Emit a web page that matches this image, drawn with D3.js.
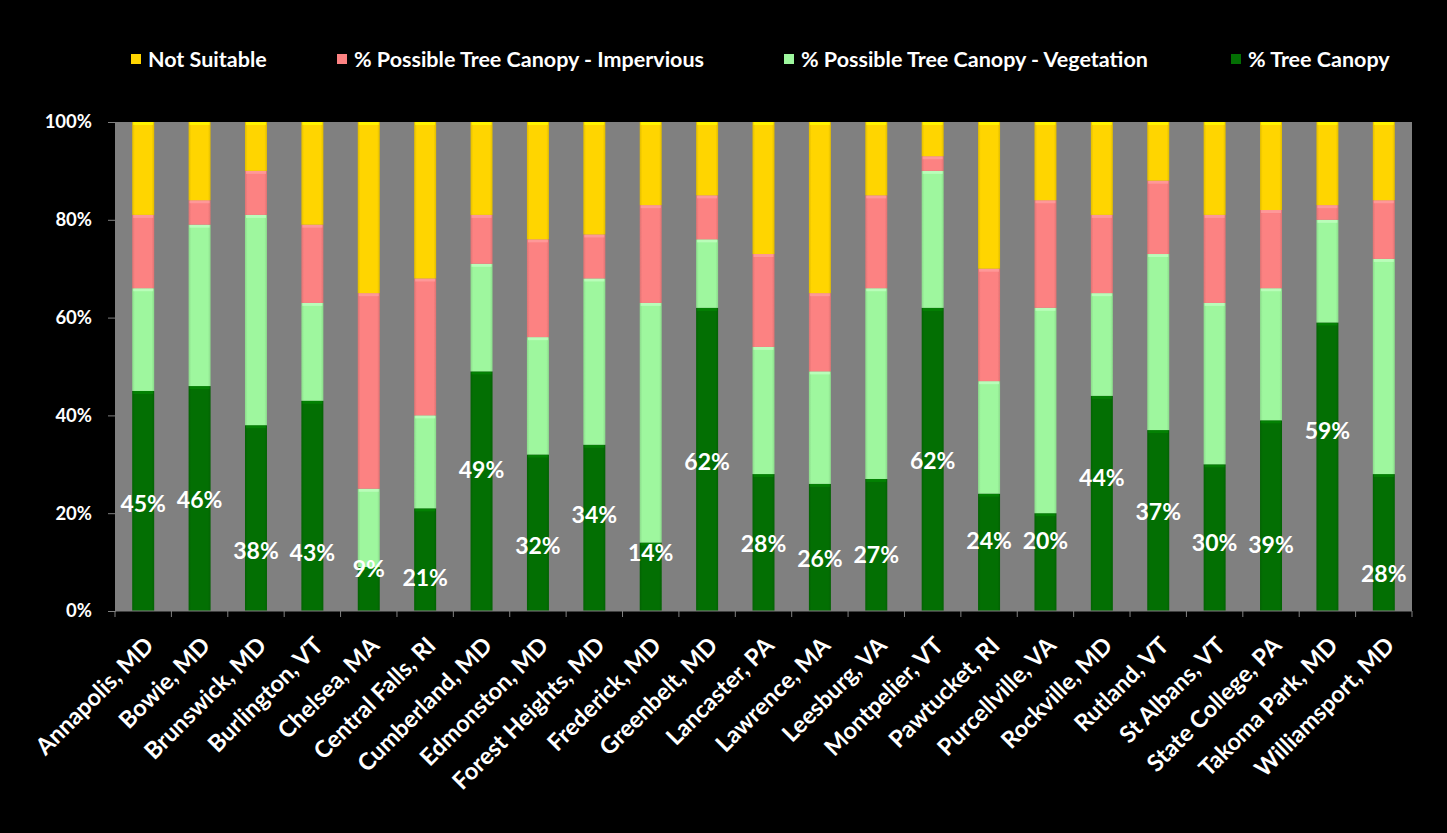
<!DOCTYPE html>
<html>
<head>
<meta charset="utf-8">
<script src="https://cdn.jsdelivr.net/npm/d3@7"></script>
<style>
  html, body { margin: 0; padding: 0; background: #000; }
  svg { display: block; }
  text { font-family: Lato, "Open Sans", sans-serif; font-weight: 700; fill: #fff; }
</style>
</head>
<body>
<svg id="chart" width="1447" height="833"></svg>
<script>
// Urban tree canopy assessment: share of land in each class, by city (%)
const cities = [
  "Annapolis, MD", "Bowie, MD", "Brunswick, MD", "Burlington, VT", "Chelsea, MA",
  "Central Falls, RI", "Cumberland, MD", "Edmonston, MD", "Forest Heights, MD",
  "Frederick, MD", "Greenbelt, MD", "Lancaster, PA", "Lawrence, MA", "Leesburg, VA",
  "Montpelier, VT", "Pawtucket, RI", "Purcellville, VA", "Rockville, MD", "Rutland, VT",
  "St Albans, VT", "State College, PA", "Takoma Park, MD", "Williamsport, MD"
];
const treeCanopy  = [45, 46, 38, 43,  9, 21, 49, 32, 34, 14, 62, 28, 26, 27, 62, 24, 20, 44, 37, 30, 39, 59, 28];
const vegetation  = [21, 33, 43, 20, 16, 19, 22, 24, 34, 49, 14, 26, 23, 39, 28, 23, 42, 21, 36, 33, 27, 21, 44];
const impervious  = [15,  5,  9, 16, 40, 28, 10, 20,  9, 20,  9, 19, 16, 19,  3, 23, 22, 16, 15, 18, 16,  3, 12];
const notSuitable = [19, 16, 10, 21, 35, 32, 19, 24, 23, 17, 15, 27, 35, 15,  7, 30, 16, 19, 12, 19, 18, 17, 16];
const yTicks = [0, 20, 40, 60, 80, 100];

// Vertical placement of each tree-canopy label, in axis units
const labelHeight = [21.8, 22.8, 12.2, 11.9, 8.5, 6.7, 28.9, 13.3, 19.7, 11.9, 30.4, 13.7,
                     10.7, 11.4, 30.7, 14.3, 14.3, 27.2, 20.3, 13.9, 13.5, 36.9, 7.6];

const series = [
  { key: "tree", name: "% Tree Canopy", values: treeCanopy, color: "#036f03" },
  { key: "veg",  name: "% Possible Tree Canopy - Vegetation", values: vegetation, color: "#9ef79e" },
  { key: "imp",  name: "% Possible Tree Canopy - Impervious", values: impervious, color: "#fc8282" },
  { key: "ns",   name: "Not Suitable", values: notSuitable, color: "#ffd500" }
];

const rows = cities.map((c, i) => {
  const r = { city: c };
  series.forEach(s => r[s.key] = s.values[i]);
  return r;
});

const svg = d3.select("#chart");
const plot = { left: 115, right: 1412, top: 122, bottom: 611 };

svg.append("rect").attr("width", 1447).attr("height", 833).attr("fill", "#000");

const x = d3.scaleBand()
  .domain(cities)
  .range([plot.left, plot.right])
  .paddingInner(0.61)
  .paddingOuter(0.305);

const y = d3.scaleLinear().domain([0, 100]).range([plot.bottom, plot.top]);

// Plot area
svg.append("rect")
  .attr("x", plot.left).attr("y", plot.top)
  .attr("width", plot.right - plot.left).attr("height", plot.bottom - plot.top)
  .attr("fill", "#808080");

// Gradients give the bars a slightly rounded look
const defs = svg.append("defs");
series.forEach(s => {
  const c = d3.color(s.color);
  const g = defs.append("linearGradient").attr("id", "grad-" + s.key)
    .attr("x1", "0%").attr("x2", "100%").attr("y1", "0%").attr("y2", "0%");
  g.append("stop").attr("offset", "0%").attr("stop-color", c.darker(0.35));
  g.append("stop").attr("offset", "12%").attr("stop-color", c);
  g.append("stop").attr("offset", "88%").attr("stop-color", c);
  g.append("stop").attr("offset", "100%").attr("stop-color", c.darker(0.35));
});

const stacked = d3.stack().keys(series.map(s => s.key))(rows);

const layers = svg.append("g").selectAll("g")
  .data(stacked)
  .join("g")
  .attr("fill", d => "url(#grad-" + d.key + ")");

layers.selectAll("rect.seg")
  .data(d => d.map(v => Object.assign(v, { key: d.key })))
  .join("rect")
  .attr("class", "seg")
  .attr("x", d => x(d.data.city))
  .attr("y", d => y(d[1]))
  .attr("width", x.bandwidth())
  .attr("height", d => y(d[0]) - y(d[1]));

// Thin highlight along the top edge of each segment
layers.selectAll("rect.hl")
  .data(d => d)
  .join("rect")
  .attr("class", "hl")
  .attr("x", d => x(d.data.city) + 1)
  .attr("y", d => y(d[1]))
  .attr("width", x.bandwidth() - 2)
  .attr("height", d => Math.min(3, y(d[0]) - y(d[1])))
  .attr("fill", d => d3.color(series.find(s => s.key === d.key).color).brighter(0.6))
  .attr("opacity", 0.7);

// Y axis
const yAxis = svg.append("g")
  .attr("transform", `translate(${plot.left},0)`)
  .call(d3.axisLeft(y).tickValues(yTicks).tickFormat(d => d + "%").tickSize(7).tickPadding(16));
yAxis.select(".domain").attr("stroke", "#808080");
yAxis.selectAll(".tick line").attr("stroke", "#808080");
yAxis.selectAll(".tick text").attr("font-size", 18.5).attr("fill", "#fff")
  .style("font-family", "Lato, sans-serif").style("font-weight", 700);

// X axis: ticks sit on category boundaries
const boundaries = d3.range(cities.length + 1).map(i => plot.left + i * x.step());
svg.append("line")
  .attr("x1", plot.left).attr("x2", plot.right)
  .attr("y1", plot.bottom).attr("y2", plot.bottom)
  .attr("stroke", "#808080");
svg.append("g").selectAll("line")
  .data(boundaries)
  .join("line")
  .attr("x1", d => d).attr("x2", d => d)
  .attr("y1", plot.bottom).attr("y2", plot.bottom + 6)
  .attr("stroke", "#808080");

svg.append("g").selectAll("text")
  .data(cities)
  .join("text")
  .attr("transform", d => `translate(${x(d) + x.bandwidth() / 2 + 12},${plot.bottom + 36}) rotate(-45)`)
  .attr("text-anchor", "end")
  .attr("font-size", 23.5)
  .text(d => d);

// Tree canopy value labels
svg.append("g").selectAll("text")
  .data(rows.map((r, i) => ({ city: r.city, v: r.tree, h: labelHeight[i] })))
  .join("text")
  .attr("x", d => x(d.city) + x.bandwidth() / 2)
  .attr("y", d => y(d.h))
  .attr("dy", "0.35em")
  .attr("text-anchor", "middle")
  .attr("font-size", 23)
  .text(d => d.v + "%");

// Legend
const legendItems = [
  { key: "ns", x: 131 },
  { key: "imp", x: 337 },
  { key: "veg", x: 784 },
  { key: "tree", x: 1231 }
];
const legend = svg.append("g").selectAll("g")
  .data(legendItems)
  .join("g")
  .attr("transform", d => `translate(${d.x},59)`);
legend.append("rect")
  .attr("x", 0).attr("y", -5).attr("width", 10).attr("height", 10)
  .attr("fill", d => series.find(s => s.key === d.key).color);
legend.append("text")
  .attr("x", 17).attr("y", 0).attr("dy", "0.35em")
  .attr("font-size", 21.5)
  .text(d => series.find(s => s.key === d.key).name);
</script>
</body>
</html>
